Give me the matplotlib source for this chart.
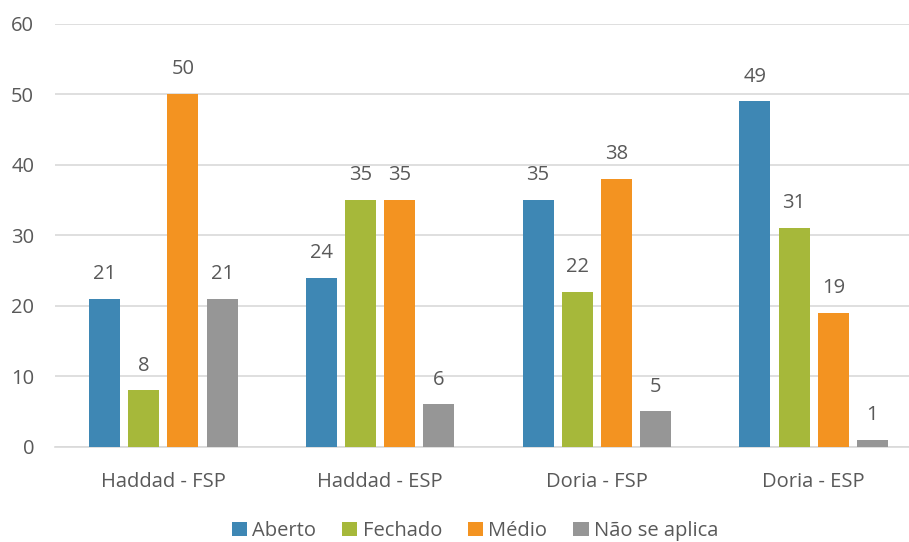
import numpy as np
import matplotlib.pyplot as plt
from matplotlib.patches import Patch

# grouped answers per source
grupos = ["Haddad - FSP", "Haddad - ESP", "Doria - FSP", "Doria - ESP"]
series = ["Aberto", "Fechado", "Médio", "Não se aplica"]
aberto = [21, 24, 35, 49]
fechado = [8, 35, 22, 31]
medio = [50, 35, 38, 19]
nao_se_aplica = [21, 6, 5, 1]
cores = ["#3E87B4", "#A6B83A", "#F39321", "#969696"]

plt.rcParams["font.family"] = ["Open Sans", "DejaVu Sans"]
txt = "#595959"

fig = plt.figure(figsize=(9.09, 5.42), dpi=100)
W, H = 909, 542
ax = fig.add_axes([55 / W, (H - 446.7) / H, (922 - 55) / W, 422.9 / H])

x = np.arange(len(grupos))
passo = 0.181
largura = 0.143
for i, (vals, cor) in enumerate(zip([aberto, fechado, medio, nao_se_aplica], cores)):
    pos = x + (i - 1.5) * passo
    ax.bar(pos, vals, width=largura, color=cor, zorder=3)
    for p, v in zip(pos, vals):
        ax.text(p, v + 2.1, str(v), ha="center", va="bottom", fontsize=14.5, color=txt)

ax.set_xlim(-0.5, 3.5)
ax.set_ylim(0, 60)
ax.set_yticks(range(0, 61, 10))
ax.set_xticks(x)
ax.set_xticklabels(grupos)
ax.grid(axis="y", color="#D9D9D9", linewidth=1.2, zorder=0)
ax.tick_params(axis="both", length=0, labelsize=14.5, labelcolor=txt)
ax.tick_params(axis="x", pad=18)
ax.tick_params(axis="y", pad=15)
for s in ["top", "right", "left"]:
    ax.spines[s].set_visible(False)
ax.spines["bottom"].set_color("#D9D9D9")
ax.spines["bottom"].set_linewidth(1.2)

handles = [Patch(facecolor=c, label=s) for c, s in zip(cores, series)]
fig.legend(handles=handles, loc="center", bbox_to_anchor=(475 / W, 1 - 531 / H),
           ncol=4, frameon=False, fontsize=14.5, labelcolor=txt,
           handlelength=0.75, handleheight=0.75, handletextpad=0.25, columnspacing=1.3,
           borderpad=0)

fig.savefig("out.png", dpi=100)
